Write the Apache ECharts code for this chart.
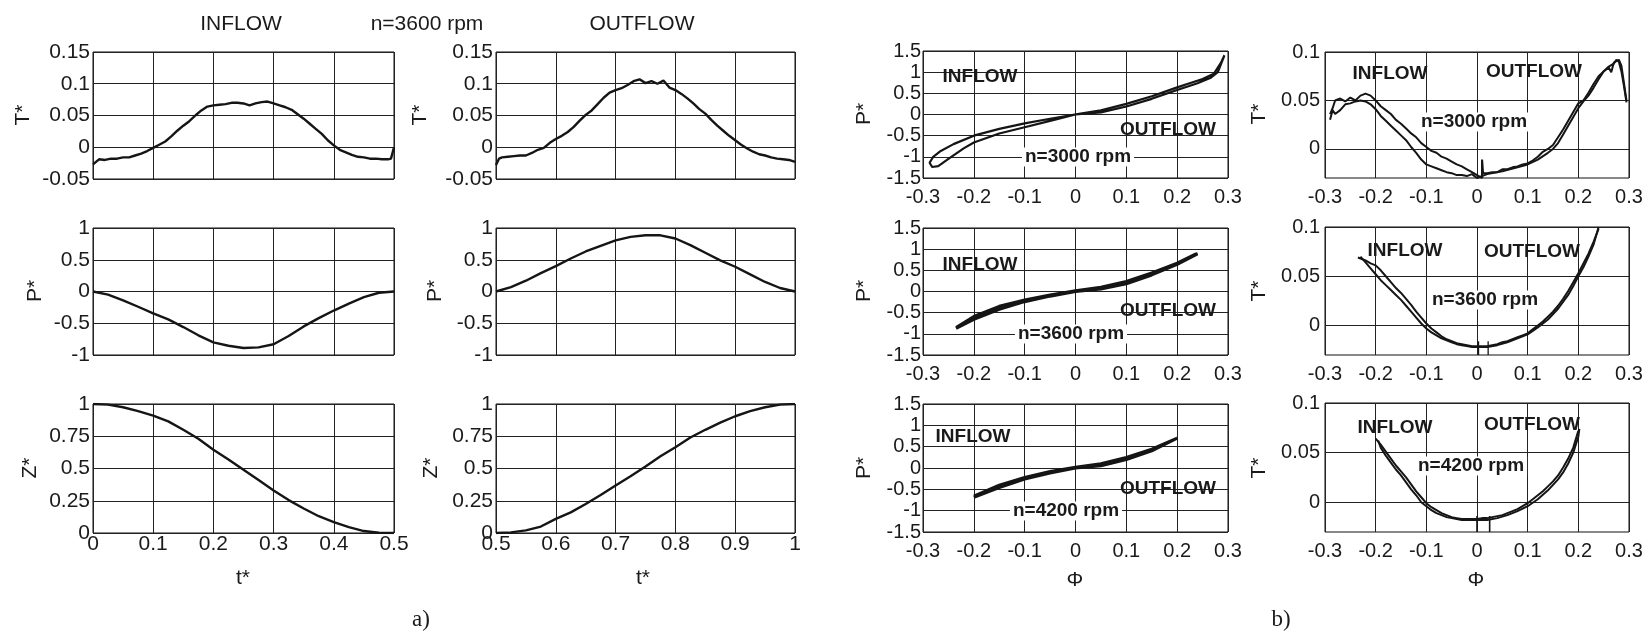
<!DOCTYPE html>
<html><head><meta charset="utf-8">
<script src="https://cdn.jsdelivr.net/npm/echarts@6/dist/echarts.min.js"></script>
<style>html,body{margin:0;padding:0;background:#fff}#c{width:1652px;height:636px}</style>
</head><body><div id="c"></div>
<script>
// ---------- DATA ----------
// a) time histories, n=3600 rpm
const tInT = [0,0.01,0.02,0.03,0.04,0.05,0.06,0.07,0.08,0.09,0.10,0.11,0.12,0.13,0.14,0.15,0.16,0.17,0.18,0.19,0.20,0.21,0.22,0.23,0.24,0.25,0.26,0.27,0.28,0.29,0.30,0.31,0.32,0.33,0.34,0.35,0.36,0.37,0.38,0.39,0.40,0.41,0.42,0.43,0.44,0.45,0.46,0.47,0.48,0.49,0.495,0.5];
const TIn = [-0.027,-0.019,-0.020,-0.018,-0.018,-0.016,-0.016,-0.013,-0.010,-0.006,-0.001,0.004,0.009,0.017,0.026,0.034,0.041,0.050,0.058,0.064,0.066,0.067,0.068,0.070,0.070,0.069,0.066,0.069,0.071,0.072,0.069,0.066,0.063,0.059,0.052,0.045,0.037,0.029,0.021,0.011,0.003,-0.004,-0.008,-0.012,-0.015,-0.016,-0.018,-0.018,-0.019,-0.019,-0.018,0.000];
const tOutT = [0.5,0.505,0.51,0.52,0.53,0.54,0.55,0.56,0.57,0.58,0.59,0.60,0.61,0.62,0.63,0.64,0.65,0.66,0.67,0.68,0.69,0.70,0.71,0.72,0.73,0.74,0.75,0.76,0.77,0.78,0.79,0.80,0.81,0.82,0.83,0.84,0.85,0.86,0.87,0.88,0.89,0.90,0.91,0.92,0.93,0.94,0.95,0.96,0.97,0.98,0.99,1.0];
const TOut = [-0.028,-0.018,-0.016,-0.015,-0.014,-0.013,-0.013,-0.009,-0.004,-0.001,0.007,0.013,0.018,0.024,0.032,0.042,0.051,0.058,0.068,0.078,0.086,0.090,0.093,0.098,0.104,0.107,0.101,0.104,0.100,0.105,0.094,0.090,0.084,0.077,0.069,0.060,0.053,0.043,0.034,0.026,0.018,0.011,0.004,-0.002,-0.007,-0.011,-0.013,-0.016,-0.018,-0.019,-0.020,-0.023];
const tIn = [0,0.025,0.05,0.075,0.1,0.125,0.15,0.175,0.2,0.225,0.25,0.275,0.3,0.325,0.35,0.375,0.4,0.425,0.45,0.475,0.5];
const tOut = [0.5,0.525,0.55,0.575,0.6,0.625,0.65,0.675,0.7,0.725,0.75,0.775,0.8,0.825,0.85,0.875,0.9,0.925,0.95,0.975,1.0];
const PIn = [0,-0.05,-0.14,-0.24,-0.345,-0.44,-0.56,-0.69,-0.8,-0.855,-0.89,-0.88,-0.83,-0.7,-0.55,-0.42,-0.3,-0.19,-0.09,-0.02,0];
const POut = [0,0.07,0.17,0.29,0.4,0.52,0.63,0.72,0.805,0.86,0.885,0.885,0.835,0.73,0.61,0.49,0.39,0.27,0.15,0.055,0];
const ZIn = [1,0.995,0.975,0.945,0.91,0.865,0.8,0.73,0.645,0.57,0.49,0.41,0.33,0.255,0.19,0.13,0.085,0.045,0.015,0.002,0];
const ZOut = [0,0.005,0.02,0.05,0.11,0.16,0.225,0.295,0.368,0.44,0.515,0.595,0.665,0.74,0.8,0.855,0.905,0.945,0.975,0.995,1];

// b) P* vs Phi loops
const phiP3000 = [0,0.05,0.1,0.15,0.2,0.24,0.265,0.28,0.293,0.286,0.272,0.25,0.22,0.2,0.15,0.1,0.05,0.01,-0.05,-0.1,-0.15,-0.2,-0.24,-0.265,-0.28,-0.287,-0.282,-0.27,-0.25,-0.22,-0.2,-0.15,-0.1,-0.05,0];
const P3000 = [0,0.05,0.19,0.37,0.58,0.74,0.86,1.0,1.4,1.22,0.96,0.84,0.72,0.64,0.43,0.25,0.1,0.02,-0.1,-0.21,-0.34,-0.5,-0.7,-0.86,-1.0,-1.14,-1.24,-1.22,-1.05,-0.8,-0.66,-0.45,-0.3,-0.15,0];
const phiP3600 = [-0.235,-0.2,-0.15,-0.1,-0.05,0,0.05,0.1,0.15,0.2,0.24,0.235,0.2,0.15,0.1,0.05,0,-0.05,-0.1,-0.15,-0.2,-0.235];
const P3600 = [-0.87,-0.66,-0.42,-0.24,-0.11,0,0.06,0.18,0.39,0.64,0.89,0.88,0.67,0.44,0.24,0.1,0.02,-0.08,-0.2,-0.35,-0.59,-0.85];
const phiP4200 = [-0.2,-0.15,-0.1,-0.05,0,0.05,0.1,0.15,0.2,0.198,0.15,0.1,0.05,0,-0.05,-0.1,-0.15,-0.2];
const P4200 = [-0.69,-0.46,-0.26,-0.12,0,0.05,0.2,0.4,0.7,0.72,0.44,0.25,0.1,0.02,-0.08,-0.22,-0.4,-0.66];

// b) T* vs Phi, two branches each
const phiT3000a = [-0.29,-0.285,-0.28,-0.27,-0.26,-0.25,-0.24,-0.23,-0.22,-0.21,-0.2,-0.19,-0.18,-0.17,-0.16,-0.15,-0.14,-0.13,-0.12,-0.11,-0.1,-0.09,-0.08,-0.07,-0.06,-0.05,-0.04,-0.03,-0.02,-0.01,0,0.01,0.01,0.012,0.02,0.03,0.04,0.05,0.06,0.07,0.08,0.09,0.1,0.11,0.12,0.13,0.14,0.15,0.16,0.17,0.18,0.19,0.2,0.21,0.22,0.23,0.24,0.25,0.26,0.27,0.275,0.28,0.285,0.29,0.295];
const T3000a = [0.036,0.042,0.05,0.052,0.049,0.053,0.05,0.055,0.057,0.055,0.05,0.044,0.04,0.036,0.03,0.026,0.021,0.016,0.012,0.006,0.002,-0.002,-0.004,-0.008,-0.01,-0.013,-0.016,-0.018,-0.021,-0.024,-0.027,-0.03,-0.011,-0.025,-0.025,-0.024,-0.024,-0.021,-0.021,-0.019,-0.018,-0.016,-0.015,-0.012,-0.008,-0.003,0.0,0.004,0.012,0.02,0.029,0.038,0.047,0.05,0.058,0.067,0.075,0.08,0.085,0.088,0.092,0.09,0.08,0.065,0.048];
const phiT3000b = [-0.29,-0.285,-0.28,-0.27,-0.26,-0.25,-0.24,-0.23,-0.22,-0.21,-0.2,-0.19,-0.18,-0.17,-0.16,-0.15,-0.14,-0.13,-0.12,-0.11,-0.1,-0.09,-0.08,-0.07,-0.06,-0.05,-0.04,-0.03,-0.02,-0.01,0,0.02,0.05,0.08,0.1,0.12,0.14,0.15,0.16,0.17,0.18,0.19,0.2,0.21,0.22,0.23,0.24,0.25,0.26,0.265,0.27,0.28,0.285,0.29,0.295];
const T3000b = [0.03,0.04,0.036,0.04,0.046,0.047,0.049,0.05,0.049,0.046,0.041,0.034,0.029,0.024,0.019,0.014,0.009,0.002,-0.004,-0.011,-0.016,-0.018,-0.02,-0.022,-0.024,-0.025,-0.027,-0.027,-0.028,-0.026,-0.03,-0.026,-0.023,-0.019,-0.016,-0.011,-0.004,0.0,0.006,0.015,0.024,0.033,0.042,0.049,0.055,0.063,0.072,0.08,0.084,0.079,0.089,0.092,0.086,0.068,0.05];
const phiT3600a = [-0.235,-0.23,-0.22,-0.21,-0.2,-0.19,-0.18,-0.17,-0.16,-0.15,-0.14,-0.13,-0.12,-0.11,-0.1,-0.09,-0.08,-0.07,-0.06,-0.05,-0.04,-0.03,-0.02,-0.01,0,0.01,0.02,0.03,0.04,0.05,0.06,0.07,0.08,0.09,0.1,0.11,0.12,0.13,0.14,0.15,0.16,0.17,0.18,0.19,0.2,0.21,0.22,0.23,0.24];
const T3600a = [0.069,0.068,0.066,0.063,0.061,0.056,0.05,0.044,0.038,0.033,0.027,0.021,0.014,0.008,0.002,-0.003,-0.007,-0.011,-0.014,-0.016,-0.018,-0.019,-0.02,-0.021,-0.021,-0.021,-0.021,-0.02,-0.019,-0.017,-0.016,-0.014,-0.012,-0.01,-0.008,-0.004,0.0,0.004,0.009,0.014,0.02,0.027,0.035,0.044,0.053,0.063,0.073,0.085,0.098];
const phiT3600b = [-0.23,-0.22,-0.21,-0.2,-0.19,-0.18,-0.17,-0.16,-0.15,-0.14,-0.13,-0.12,-0.11,-0.1,-0.09,-0.08,-0.07,-0.06,-0.05,-0.04,-0.03,-0.02,-0.01,0,0.02,0.04,0.06,0.08,0.1,0.12,0.14,0.16,0.18,0.19,0.2,0.21,0.22,0.23,0.24];
const T3600b = [0.07,0.064,0.058,0.052,0.046,0.041,0.036,0.031,0.026,0.02,0.014,0.008,0.002,-0.003,-0.007,-0.01,-0.013,-0.015,-0.017,-0.019,-0.02,-0.021,-0.022,-0.022,-0.022,-0.02,-0.017,-0.013,-0.009,-0.002,0.006,0.017,0.031,0.04,0.05,0.059,0.07,0.082,0.1];
const phiT4200a = [-0.2,-0.19,-0.18,-0.17,-0.16,-0.15,-0.14,-0.13,-0.12,-0.11,-0.1,-0.09,-0.08,-0.07,-0.06,-0.05,-0.04,-0.03,-0.02,-0.01,0,0.01,0.02,0.03,0.04,0.05,0.06,0.07,0.08,0.09,0.1,0.11,0.12,0.13,0.14,0.15,0.16,0.17,0.18,0.19,0.2];
const T4200a = [0.064,0.058,0.051,0.044,0.037,0.031,0.025,0.018,0.011,0.005,-0.001,-0.005,-0.008,-0.011,-0.013,-0.015,-0.016,-0.017,-0.017,-0.017,-0.017,-0.016,-0.016,-0.015,-0.014,-0.013,-0.011,-0.009,-0.007,-0.004,-0.001,0.003,0.007,0.011,0.016,0.021,0.027,0.035,0.044,0.055,0.072];
const phiT4200b = [-0.195,-0.19,-0.18,-0.17,-0.16,-0.15,-0.14,-0.13,-0.12,-0.11,-0.1,-0.09,-0.08,-0.07,-0.06,-0.05,-0.04,-0.03,-0.02,-0.01,0,0.02,0.04,0.06,0.08,0.1,0.12,0.14,0.16,0.17,0.18,0.19,0.2,0.202];
const T4200b = [0.062,0.055,0.047,0.04,0.033,0.027,0.02,0.013,0.007,0.0,-0.004,-0.008,-0.011,-0.013,-0.015,-0.016,-0.017,-0.018,-0.018,-0.018,-0.018,-0.018,-0.016,-0.013,-0.009,-0.004,0.003,0.012,0.023,0.03,0.039,0.05,0.066,0.074];
// short vertical spikes near Phi=0 (sensor artefacts)
const spikePhi3000 = [0.01,0.01];   const spikeT3000 = [-0.012,-0.03];
const spikePhi3600 = [0.003,0.003,null,0.022,0.022]; const spikeT3600 = [-0.03,-0.016,null,-0.016,-0.03];
const spikePhi4200 = [0,0,null,0.025,0.025]; const spikeT4200 = [-0.03,-0.014,null,-0.03,-0.014];

// axis tick settings
const xTicksA1 = {min:0, max:0.5, interval:0.1};
const xTicksA2 = {min:0.5, max:1, interval:0.1};
const xTicksB = {min:-0.3, max:0.3, interval:0.1};
const yTicksT = {min:-0.05, max:0.15, interval:0.05};
const yTicksP = {min:-1, max:1, interval:0.5};
const yTicksZ = {min:0, max:1, interval:0.25};
const yTicksPB = {min:-1.5, max:1.5, interval:0.5};
const yTicksTB = {min:-0.03, max:0.1, ticks:[0,0.05,0.1]};

// ---------- CHART ----------
const zip = (a,b) => a.map((v,i) => (v === null ? [null, null] : [v, b[i]]));
const FONT = 'Liberation Sans, Arial, sans-serif';
const TXT = '#1a1a1a';

const gridBoxes = [
  [93,52,301,127],[496,52,299,127],[923,51,305,127],[1325,52,304,126],
  [93,228,301,127],[496,228,299,127],[923,228,305,127],[1325,227,304,128],
  [93,404,301,129],[496,404,299,129],[923,404,305,128],[1325,403,304,129]
];
const grid = gridBoxes.map(b => ({left:b[0], top:b[1], width:b[2], height:b[3], show:true, borderColor:'#111', borderWidth:1, backgroundColor:'transparent', containLabel:false}));

const xDefs = [], yDefs = [];
const splitL = {show:true, lineStyle:{color:'#222', width:1}};
function xAx(i, t, showLabels, margin, fs){
  return {type:'value', gridIndex:i, min:t.min, max:t.max, interval:t.interval,
    axisLine:{show:false}, axisTick:{show:false}, splitLine:splitL,
    axisLabel:{show:showLabels, margin:margin, fontSize:fs, color:TXT, fontFamily:FONT, showMinLabel:true, showMaxLabel:true}};
}
function yAx(i, t, margin, fs){
  const o = {type:'value', gridIndex:i, min:t.min, max:t.max,
    axisLine:{show:false}, axisTick:{show:false}, splitLine:splitL,
    axisLabel:{margin:margin, fontSize:fs, color:TXT, fontFamily:FONT, showMinLabel:true, showMaxLabel:true}};
  if (t.ticks) { o.axisTick.customValues = t.ticks; o.axisLabel.customValues = t.ticks; }
  else o.interval = t.interval;
  return o;
}
const colX = [xTicksA1, xTicksA2, xTicksB, xTicksB];
const rowY = [[yTicksT,yTicksT,yTicksPB,yTicksTB],[yTicksP,yTicksP,yTicksPB,yTicksTB],[yTicksZ,yTicksZ,yTicksPB,yTicksTB]];
for (let r=0;r<3;r++) for (let c=0;c<4;c++){
  const i = r*4+c;
  const showX = c>=2 || r===2;
  const xm = c>=2 ? 9 : 1;
  xDefs.push(xAx(i, colX[c], showX, xm, c>=2?20:21));
  yDefs.push(yAx(i, rowY[r][c], c===3?5:(c===2?2:3), c>=2?20:21));
}

const LS = {color:'#151515', width:2.4};
function line(i, data, w){
  return {type:'line', xAxisIndex:i, yAxisIndex:i, data:data, showSymbol:false, symbol:'none',
    lineStyle:{color:LS.color, width:w||LS.width}, connectNulls:false, animation:false, silent:true, clip:true};
}
const series = [
  line(0, zip(tInT, TIn)), line(1, zip(tOutT, TOut)),
  line(4, zip(tIn, PIn)), line(5, zip(tOut, POut)),
  line(8, zip(tIn, ZIn)), line(9, zip(tOut, ZOut)),
  line(2, zip(phiP3000, P3000), 2.2), line(6, zip(phiP3600, P3600), 3), line(10, zip(phiP4200, P4200), 3),
  line(3, zip(phiT3000a, T3000a), 2), line(3, zip(phiT3000b, T3000b), 2), line(3, zip(spikePhi3000, spikeT3000), 2),
  line(7, zip(phiT3600a, T3600a), 2), line(7, zip(phiT3600b, T3600b), 2), line(7, zip(spikePhi3600, spikeT3600), 1.3),
  line(11, zip(phiT4200a, T4200a), 2), line(11, zip(phiT4200b, T4200b), 2), line(11, zip(spikePhi4200, spikeT4200), 1.6)
];

function txt(x,y,s,opt){
  opt = opt||{};
  return {type:'text', x:x, y:y, rotation:opt.rot||0, z:100,
    style:{text:s, fill:TXT, font:(opt.bold?'bold ':'')+(opt.fs||21)+'px '+(opt.ff||FONT),
      textAlign:'center', textVerticalAlign:'middle',
      backgroundColor:opt.bg, padding:opt.bg?[0,3]:0}};
}
const R = Math.PI/2;
const graphic = [
  txt(241,24,'INFLOW',{fs:21}), txt(427,24,'n=3600 rpm',{fs:21}), txt(642,24,'OUTFLOW',{fs:21}),
  txt(23,115,'T*',{rot:R}), txt(35,291,'P*',{rot:R}), txt(30,468,'Z*',{rot:R}),
  txt(420,115,'T*',{rot:R}), txt(435,291,'P*',{rot:R}), txt(431,468,'Z*',{rot:R}),
  txt(864,114,'P*',{rot:R}), txt(864,291,'P*',{rot:R}), txt(864,468,'P*',{rot:R}),
  txt(1259,114,'T*',{rot:R}), txt(1259,291,'T*',{rot:R}), txt(1259,468,'T*',{rot:R}),
  txt(243,578,'t*'), txt(643,578,'t*'), txt(1075,580,'Φ'), txt(1476,580,'Φ'),
  txt(421,620,'a)',{fs:23, ff:'Liberation Serif, Times New Roman, serif'}),
  txt(1281,620,'b)',{fs:23, ff:'Liberation Serif, Times New Roman, serif'}),
  // annotations column 3
  txt(980,77,'INFLOW',{bold:1,fs:19}), txt(1168,130,'OUTFLOW',{bold:1,fs:19}), txt(1078,157,'n=3000 rpm',{bold:1,fs:19,bg:'#fff'}),
  txt(980,265,'INFLOW',{bold:1,fs:19}), txt(1168,311,'OUTFLOW',{bold:1,fs:19}), txt(1071,334,'n=3600 rpm',{bold:1,fs:19,bg:'#fff'}),
  txt(973,437,'INFLOW',{bold:1,fs:19}), txt(1168,489,'OUTFLOW',{bold:1,fs:19}), txt(1066,511,'n=4200 rpm',{bold:1,fs:19,bg:'#fff'}),
  // annotations column 4
  txt(1390,74,'INFLOW',{bold:1,fs:19}), txt(1534,72,'OUTFLOW',{bold:1,fs:19}), txt(1474,122,'n=3000 rpm',{bold:1,fs:19,bg:'#fff'}),
  txt(1405,251,'INFLOW',{bold:1,fs:19}), txt(1532,252,'OUTFLOW',{bold:1,fs:19}), txt(1485,300,'n=3600 rpm',{bold:1,fs:19,bg:'#fff'}),
  txt(1395,428,'INFLOW',{bold:1,fs:19}), txt(1532,425,'OUTFLOW',{bold:1,fs:19}), txt(1471,466,'n=4200 rpm',{bold:1,fs:19,bg:'#fff'})
];

const chart = echarts.init(document.getElementById('c'), null, {renderer:'canvas'});
chart.setOption({backgroundColor:'#fff', animation:false, grid:grid, xAxis:xDefs, yAxis:yDefs, series:series, graphic:graphic});
</script>
</body></html>
